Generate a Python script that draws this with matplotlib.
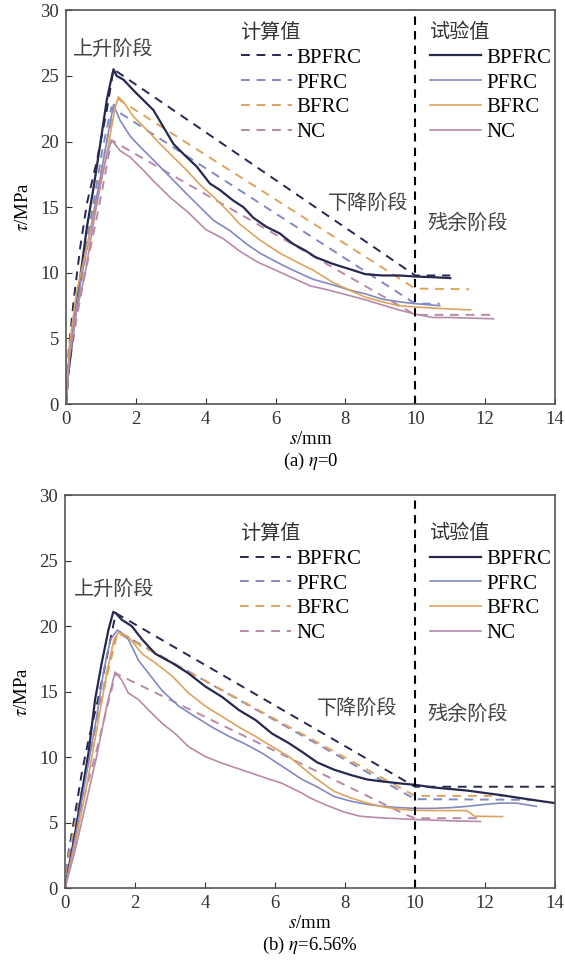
"""
Bond stress-slip curves: calculated vs. test, two fiber content cases.
"""

import matplotlib
matplotlib.use("Agg")
import matplotlib.pyplot as plt
from matplotlib.font_manager import FontProperties

plt.rcParams.update({
    "font.family": ["Liberation Serif", "DejaVu Serif"],
    "mathtext.fontset": "stix",
    "font.size": 13.5,
    "axes.linewidth": 1.2,
    "axes.edgecolor": "#555555",
    "xtick.direction": "in",
    "ytick.direction": "in",
    "xtick.major.size": 4,
    "ytick.major.size": 4,
    "xtick.color": "#333333",
    "ytick.color": "#333333",
})

CJK = FontProperties(family="Noto Sans CJK SC", size=14.5)

SERIES = ["BPFRC", "PFRC", "BFRC", "NC"]
COLORS = {
    "BPFRC": "#27284f",
    "PFRC": "#8189c2",
    "BFRC": "#dea35f",
    "NC": "#b78aaa",
}
LWIDTH = {"BPFRC": 1.6, "PFRC": 1.2, "BFRC": 1.2, "NC": 1.2}

STAGE_BOUNDARY = 10.0

# ---------------- panel (a): eta = 0 ----------------
# test (solid)
a_test_bpfrc_s = [0, 0.05, 0.12, 0.22, 0.41, 0.6, 0.79, 0.98, 1.17, 1.3, 1.36, 1.45, 1.65, 1.93,
                  2.31, 2.5, 2.79, 3.08, 3.46, 3.74, 4.12, 4.41, 4.79, 5.08, 5.36, 5.74, 6.12, 6.5,
                  6.85, 7.14, 7.62, 8.1, 8.57, 9.05, 9.52, 10.0, 10.48, 11.0]
a_test_bpfrc_t = [0, 2.0, 3.5, 5.9, 9.7, 13.5, 16.5, 19.8, 23.2, 24.8, 25.5, 25.0, 24.7, 23.9,
                  22.9, 22.4, 21.1, 19.8, 18.8, 18.1, 16.8, 16.3, 15.5, 15.0, 14.2, 13.5, 13.0, 12.2,
                  11.7, 11.2, 10.7, 10.3, 9.9, 9.8, 9.8, 9.72, 9.67, 9.6]
a_test_pfrc_s = [0, 0.1, 0.3, 0.5, 0.75, 1.0, 1.2, 1.36, 1.55, 1.84, 2.12, 2.5, 2.98, 3.46, 3.84,
                 4.22, 4.7, 5.17, 5.55, 6.12, 6.5, 7.08, 7.62, 8.1, 8.57, 9.05, 9.52, 10.0, 10.7]
a_test_pfrc_t = [0, 4, 7.5, 10.5, 14, 17.5, 20.5, 22.8, 21.6, 20.4, 19.6, 18.6, 17.3, 16.0, 15.0,
                 14.0, 13.2, 12.2, 11.5, 10.7, 10.2, 9.5, 9.1, 8.7, 8.4, 8.0, 7.8, 7.65, 7.5]
a_test_bfrc_s = [0, 0.1, 0.3, 0.6, 0.9, 1.2, 1.4, 1.5, 1.65, 1.93, 2.31, 2.7, 3.08, 3.46, 3.84,
                 4.22, 4.6, 4.98, 5.55, 6.12, 6.7, 7.08, 7.62, 8.1, 8.57, 9.05, 9.52, 10.0, 10.95, 11.58]
a_test_bfrc_t = [0, 4.5, 8.5, 12, 15.5, 19.5, 22.5, 23.4, 23.0, 21.9, 20.9, 19.8, 18.8, 17.8, 16.7,
                 15.8, 14.8, 13.7, 12.5, 11.5, 10.7, 10.2, 9.3, 8.7, 8.15, 7.8, 7.5, 7.4, 7.25, 7.18]
a_test_nc_s = [0, 0.1, 0.3, 0.55, 0.8, 1.0, 1.2, 1.31, 1.55, 1.84, 2.22, 2.5, 3.0, 3.5, 4.0, 4.5,
               5.0, 5.5, 6.0, 6.5, 7.0, 7.5, 8.0, 8.5, 9.0, 9.5, 10.0, 10.5, 11.0, 12.24]
a_test_nc_t = [0, 3.5, 7, 10, 14, 17, 19.3, 20.1, 19.3, 18.8, 17.8, 17.0, 15.7, 14.6, 13.3, 12.6,
               11.6, 10.8, 10.2, 9.6, 9.0, 8.7, 8.35, 8.0, 7.6, 7.2, 6.85, 6.6, 6.6, 6.5]
# calculated (dashed)
a_calc_bpfrc_s = [0, 0.08, 0.22, 0.41, 0.6, 0.89, 1.17, 1.36, 10.0, 11.0]
a_calc_bpfrc_t = [0, 4.1, 7.9, 12, 15.3, 18.6, 22.4, 25.5, 9.8, 9.8]
a_calc_pfrc_s = [0, 0.1, 0.3, 0.5, 0.8, 1.05, 1.3, 10.0, 10.7]
a_calc_pfrc_t = [0, 3.5, 7.5, 11, 15.5, 19.5, 22.6, 7.65, 7.65]
a_calc_bfrc_s = [0, 0.1, 0.3, 0.55, 0.85, 1.15, 1.45, 10.0, 11.55]
a_calc_bfrc_t = [0, 3.3, 7, 11, 15.5, 19.8, 23.3, 8.8, 8.75]
a_calc_nc_s = [0, 0.1, 0.3, 0.55, 0.85, 1.05, 1.3, 10.0, 12.27]
a_calc_nc_t = [0, 3, 6.5, 10, 13.8, 16.5, 20.1, 6.8, 6.8]

# ---------------- panel (b): eta = 6.56% ----------------
b_test_bpfrc_s = [0, 0.29, 0.48, 0.67, 0.86, 1.05, 1.24, 1.38, 1.45, 1.62, 1.91, 2.2, 2.58, 3.06,
                  3.53, 4.01, 4.49, 4.97, 5.44, 5.92, 6.4, 6.78, 7.21, 7.69, 8.16, 8.64, 9.11, 9.58,
                  10.0, 10.5, 11.48, 12.43, 13.37, 14.0]
b_test_bpfrc_t = [0, 4.2, 7.25, 10.3, 14.4, 17.2, 19.7, 21.1, 21.0, 20.5, 20.0, 19.0, 17.9, 17.2,
                  16.4, 15.4, 14.6, 13.6, 12.85, 11.8, 11.07, 10.4, 9.6, 9.05, 8.65, 8.3, 8.14, 8.0,
                  7.9, 7.7, 7.46, 7.12, 6.74, 6.5]
b_test_pfrc_s = [0, 0.3, 0.6, 0.9, 1.1, 1.3, 1.5, 1.62, 1.81, 2.1, 2.39, 2.77, 3.25, 3.72, 4.2,
                 4.68, 5.16, 5.64, 6.21, 6.78, 7.16, 7.69, 8.16, 8.64, 9.11, 9.58, 10.0, 10.5, 11.0,
                 11.48, 12.0, 12.43, 12.9, 13.47]
b_test_pfrc_t = [0, 4, 8.5, 13, 16.5, 19, 19.7, 19.5, 19.0, 17.4, 16.4, 15.1, 13.9, 13.1, 12.3,
                 11.6, 11.0, 10.3, 9.3, 8.3, 7.8, 7.0, 6.65, 6.4, 6.25, 6.15, 6.1, 6.1, 6.15,
                 6.25, 6.4, 6.5, 6.5, 6.25]
b_test_bfrc_s = [0, 0.3, 0.6, 0.9, 1.2, 1.4, 1.53, 1.65, 1.81, 2.2, 2.58, 3.06, 3.53, 4.01, 4.49,
                 4.97, 5.44, 5.92, 6.4, 6.88, 7.16, 7.69, 8.16, 8.64, 9.11, 9.58, 10.0, 10.5, 11.0,
                 11.48, 11.6, 11.7, 12.5]
b_test_bfrc_t = [0, 3.5, 7.5, 12, 16.5, 19.0, 19.5, 19.4, 19.2, 17.9, 17.2, 16.2, 14.9, 13.9, 13.1,
                 12.3, 11.6, 10.8, 10.05, 9.0, 8.4, 7.4, 6.9, 6.5, 6.2, 6.03, 5.95, 5.93, 5.93,
                 5.93, 5.7, 5.5, 5.47]
b_test_nc_s = [0, 0.3, 0.6, 0.9, 1.2, 1.43, 1.62, 1.81, 2.1, 2.39, 2.77, 3.15, 3.53, 4.01, 4.49,
               5.06, 5.64, 6.21, 6.78, 7.0, 7.5, 8.0, 8.43, 9.0, 10.0, 11.0, 11.87]
b_test_nc_t = [0, 3, 6.5, 10, 14, 16.5, 15.9, 14.9, 14.4, 13.6, 12.6, 11.8, 10.8, 10.05, 9.54,
               9.03, 8.5, 8.0, 7.25, 6.9, 6.3, 5.8, 5.5, 5.38, 5.25, 5.15, 5.1]
b_calc_bpfrc_s = [0, 0.1, 0.29, 0.48, 0.67, 0.96, 1.24, 1.45, 10.0, 14.0]
b_calc_bpfrc_t = [0, 2.7, 5.7, 8.8, 11.3, 14.6, 18.2, 21.0, 7.75, 7.75]
b_calc_pfrc_s = [0, 0.1, 0.3, 0.6, 0.9, 1.2, 1.5, 10.0, 13.45]
b_calc_pfrc_t = [0, 2.5, 5.2, 9, 12.8, 16.5, 19.6, 6.8, 6.75]
b_calc_bfrc_s = [0, 0.1, 0.3, 0.6, 0.9, 1.2, 1.5, 10.0, 12.5]
b_calc_bfrc_t = [0, 2.3, 5, 8.7, 12.5, 16.2, 19.5, 7.05, 7.05]
b_calc_nc_s = [0, 0.1, 0.3, 0.6, 0.9, 1.2, 1.45, 9.75, 10.0, 11.9]
b_calc_nc_t = [0, 2.0, 4.5, 7.5, 10.5, 13.8, 16.4, 5.6, 5.35, 5.35]

PANELS = [
    {
        "rect": [0.1168, 0.579, 0.8655, 0.4104],
        "test": {
            "BPFRC": (a_test_bpfrc_s, a_test_bpfrc_t),
            "PFRC": (a_test_pfrc_s, a_test_pfrc_t),
            "BFRC": (a_test_bfrc_s, a_test_bfrc_t),
            "NC": (a_test_nc_s, a_test_nc_t),
        },
        "calc": {
            "BPFRC": (a_calc_bpfrc_s, a_calc_bpfrc_t),
            "PFRC": (a_calc_pfrc_s, a_calc_pfrc_t),
            "BFRC": (a_calc_bfrc_s, a_calc_bfrc_t),
            "NC": (a_calc_nc_s, a_calc_nc_t),
        },
        "caption": r"(a) $\eta$=0",
        "rise": (0.2, 27.0),
        "fall": (7.5, 15.3),
        "resid": (10.35, 13.8),
        "leg_y": 0.970,
    },
    {
        "rect": [0.1150, 0.0747, 0.8673, 0.4095],
        "test": {
            "BPFRC": (b_test_bpfrc_s, b_test_bpfrc_t),
            "PFRC": (b_test_pfrc_s, b_test_pfrc_t),
            "BFRC": (b_test_bfrc_s, b_test_bfrc_t),
            "NC": (b_test_nc_s, b_test_nc_t),
        },
        "calc": {
            "BPFRC": (b_calc_bpfrc_s, b_calc_bpfrc_t),
            "PFRC": (b_calc_pfrc_s, b_calc_pfrc_t),
            "BFRC": (b_calc_bfrc_s, b_calc_bfrc_t),
            "NC": (b_calc_nc_s, b_calc_nc_t),
        },
        "caption": r"(b) $\eta$=6.56%",
        "rise": (0.25, 22.8),
        "fall": (7.2, 13.7),
        "resid": (10.35, 13.3),
        "leg_y": 0.929,
    },
]

fig = plt.figure(figsize=(5.65, 9.6), dpi=100)

for p in PANELS:
    ax = fig.add_axes(p["rect"])
    calc_handles, test_handles = [], []
    for name in SERIES:
        s, t = p["calc"][name]
        h, = ax.plot(s, t, color=COLORS[name], lw=1.4, linestyle=(0, (4.5, 3.5)), label=name)
        calc_handles.append(h)
    for name in SERIES:
        s, t = p["test"][name]
        h, = ax.plot(s, t, color=COLORS[name], lw=LWIDTH[name], label=name)
        test_handles.append(h)

    ax.axvline(STAGE_BOUNDARY, color="black", lw=1.5, linestyle=(0, (4, 3)))

    ax.set_xlim(0, 14)
    ax.set_ylim(0, 30)
    ax.set_xticks(range(0, 15, 2))
    ax.set_yticks(range(0, 31, 5))
    ax.tick_params(labelsize=13.5, pad=5)
    ax.set_xlabel(r"$s$/mm", fontsize=13.5, labelpad=2)
    ax.set_ylabel(r"$\tau$/MPa", fontsize=13.5, labelpad=6)

    ax.text(*p["rise"], "上升阶段", fontproperties=CJK, color="#444444", ha="left", va="center")
    ax.text(*p["fall"], "下降阶段", fontproperties=CJK, color="#444444", ha="left", va="center")
    ax.text(*p["resid"], "残余阶段", fontproperties=CJK, color="#444444", ha="left", va="center")

    leg_kw = dict(frameon=False, fontsize=15, handlelength=2.45, handletextpad=0.25,
                  labelspacing=0.25, borderpad=0.0, borderaxespad=0.0,
                  title_fontproperties=CJK, alignment="left", loc="upper left")
    leg1 = ax.legend(handles=calc_handles, title="计算值",
                     bbox_to_anchor=(0.357, p["leg_y"]), **leg_kw)
    leg1.get_title().set_color("#333333")
    ax.add_artist(leg1)
    leg2 = ax.legend(handles=test_handles, title="试验值",
                     bbox_to_anchor=(0.745, p["leg_y"]), **leg_kw)
    leg2.get_title().set_color("#333333")

    ax.text(0.5, -0.145, p["caption"], transform=ax.transAxes, ha="center", va="center",
            fontsize=13.5)

fig.savefig("out.png", dpi=100)
